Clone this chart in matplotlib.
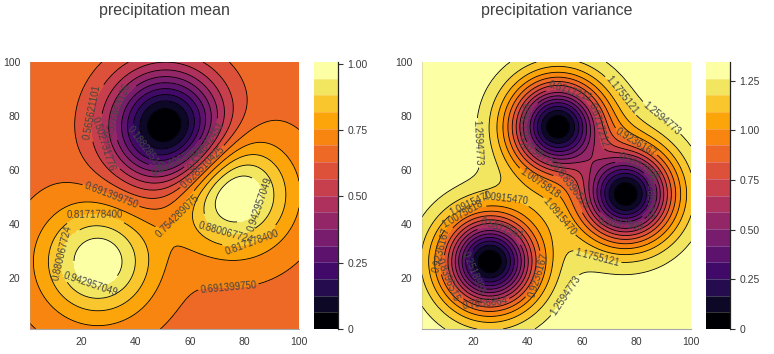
import numpy as np
import matplotlib.pyplot as plt

plt.rcParams['font.family'] = ['Liberation Sans', 'DejaVu Sans']

# precipitation stations (x, y, value); the field is ordinary kriging of these
station_x = np.array([25.0, 50.0, 75.0])
station_y = np.array([25.0, 75.0, 50.0])
precip = np.array([1.0, 0.0, 1.0])

# gaussian variogram
vario_range = 35.0
vario_sill = 1.0

# 100 x 100 grid, cell coords 0..99, drawn at indices 1..100
grid_coords = np.arange(100)
grid_index = grid_coords + 1

# contour levels, as printed on the contour labels
mean_levels = [-0.000382822, 0.062506503, 0.125395827, 0.188285152, 0.251174477,
               0.314063801, 0.376953126, 0.439842451, 0.502731776, 0.565621101,
               0.628510425, 0.691399750, 0.754289075, 0.817178400, 0.880067724,
               0.942957049, 1.005846373]
var_levels = [0.0, 0.0839652, 0.1679303, 0.2518955, 0.3358606, 0.4198258,
              0.5037909, 0.5877561, 0.6717212, 0.7556864, 0.8396515, 0.9236167,
              1.0075818, 1.0915470, 1.1755121, 1.2594773, 1.3434424]

cbar_ticks_mean = [0, 0.25, 0.5, 0.75, 1.0]
cbar_labels_mean = ['0', '0.25', '0.50', '0.75', '1.00']
cbar_ticks_var = [0, 0.25, 0.5, 0.75, 1.0, 1.25]
cbar_labels_var = ['0', '0.25', '0.50', '0.75', '1.00', '1.25']

axis_ticks = [20, 40, 60, 80, 100]

# where the contour labels sit (axis coords)
mean_label_pos = [(23.5, 81.5), (29, 70), (34, 82), (43, 66.6), (55.3, 63.7),
                  (65.6, 69), (64.2, 61.4), (55, 43), (31, 51), (25, 43),
                  (13, 29), (23, 17), (73, 36.6), (82.6, 33), (86, 47), (74, 15)]
var_label_pos = [(21.2, 70), (73.5, 87), (88.6, 78.5), (79.8, 70.7), (55.5, 88.9),
                 (66.1, 76.6), (81.2, 61.8), (39.3, 76.7), (46.3, 64.4), (55.5, 52.2),
                 (44.1, 54.8), (50.7, 42.2), (31.5, 48.1), (18.7, 48.8), (16.1, 43.6),
                 (30.4, 38.1), (8.4, 30.3), (10.2, 19.2), (19.8, 21.8), (24.2, 11),
                 (43.3, 21), (53.6, 13.6), (65.4, 27.3), (74.2, 39.2), (85.6, 50.7)]


def cov(ax_, ay_, bx_, by_):
    h2 = (ax_[:, None] - bx_[None, :]) ** 2 + (ay_[:, None] - by_[None, :]) ** 2
    return vario_sill * np.exp(-3 * h2 / vario_range ** 2)


# ordinary kriging system
n = len(precip)
gx, gy = np.meshgrid(grid_coords, grid_coords)
px, py = gx.ravel().astype(float), gy.ravel().astype(float)
A = np.ones((n + 1, n + 1))
A[:n, :n] = cov(station_x, station_y, station_x, station_y)
A[n, n] = 0.0
c = cov(station_x, station_y, px, py)
B = np.vstack([c, np.ones(len(px))])
sol = np.linalg.solve(A, B)
lam, mu = sol[:n], sol[n]
mean = (precip @ lam).reshape(gx.shape)
var = (vario_sill - np.sum(lam * c, axis=0) - mu).reshape(gx.shape)

band_colors = plt.get_cmap('inferno')(np.linspace(0, 1, len(mean_levels) - 1))

fig = plt.figure(figsize=(7.74, 3.54), dpi=100)
W, H = 774.0, 354.0

panels = [
    dict(z=mean, levels=mean_levels, title='precipitation mean', ax_px=30, cb_px=314,
         ticks=cbar_ticks_mean, labels=cbar_labels_mean, fmt='%.9f', pos=mean_label_pos),
    dict(z=var, levels=var_levels, title='precipitation variance', ax_px=422, cb_px=706,
         ticks=cbar_ticks_var, labels=cbar_labels_var, fmt='%.7f', pos=var_label_pos),
]

txt = '#3a3a3a'
for p in panels:
    lev = np.array(p['levels'])
    z = np.clip(p['z'], lev[0], lev[-1])
    ax = fig.add_axes([p['ax_px'] / W, 1 - 329 / H, 269 / W, 267 / H])
    cf = ax.contourf(grid_index, grid_index, z, levels=lev, colors=band_colors)
    cs = ax.contour(grid_index, grid_index, z, levels=lev[1:-1], colors='black',
                    linewidths=0.6)
    ax.clabel(cs, fmt=p['fmt'], fontsize=7, colors='#444444', inline=True,
              inline_spacing=2, manual=p['pos'])
    ax.set_xlim(1, 100)
    ax.set_ylim(1, 100)
    ax.set_xticks(axis_ticks)
    ax.set_yticks(axis_ticks)
    ax.tick_params(length=0, labelsize=7.5, labelcolor=txt)
    ax.tick_params(axis='x', pad=5.5)
    ax.tick_params(axis='y', pad=7)
    for s in ['top', 'right']:
        ax.spines[s].set_visible(False)
    ax.spines['bottom'].set_color('#a8a8a8')
    ax.spines['left'].set_color('#a8a8a8')
    ax.spines['left'].set_alpha(0.35)
    fig.text((p['ax_px'] + 134.5) / W, 1 - 15 / H, p['title'], ha='center',
             va='baseline', fontsize=11.5, color='#404040')

    cax = fig.add_axes([p['cb_px'] / W, 1 - 329 / H, 24 / W, 267 / H])
    cb = fig.colorbar(cf, cax=cax)
    cb.outline.set_visible(False)
    for l in lev[1:-1]:
        cax.axhline(l, color='white', alpha=0.3, lw=0.5)
    cax.plot([1, 1], [0, 1], transform=cax.transAxes, color='#222222', lw=0.9,
             clip_on=False)
    cb.set_ticks(p['ticks'])
    cb.set_ticklabels(p['labels'])
    cax.tick_params(axis='y', right=True, left=False, length=3.8, width=0.8,
                    color='#333333', labelsize=7.5, labelcolor=txt, pad=3)

fig.savefig('out.png', dpi=100)
